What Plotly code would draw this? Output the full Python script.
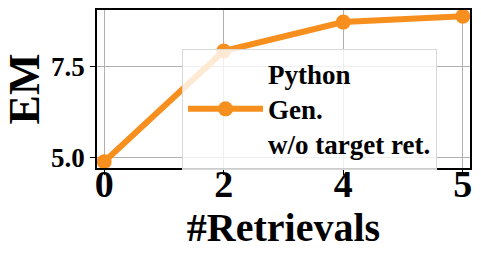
import plotly.graph_objects as go

x_labels = ["0", "2", "4", "5"]
em_values = [4.89, 7.91, 8.70, 8.86]
y_ticks = [5.0, 7.5]
series_lines = ["Python", "Gen.", "w/o target ret."]

font_family = "Liberation Serif"
orange = "#F78F1E"

fig = go.Figure()
fig.add_trace(go.Scatter(
    x=list(range(len(x_labels))), y=em_values, mode="lines+markers",
    name="<br>".join("<b>%s</b>" % s for s in series_lines),
    line=dict(color=orange, width=6),
    marker=dict(color=orange, size=15),
    cliponaxis=False,
))

fig.update_layout(
    width=481, height=260,
    margin=dict(l=97, r=11, t=10, b=92),
    plot_bgcolor="white", paper_bgcolor="white",
    font=dict(family=font_family, color="black", size=27),
    showlegend=True,
    legend=dict(
        x=0.228, y=0.755, xanchor="left", yanchor="top",
        bgcolor="rgba(255,255,255,0.8)", bordercolor="#d8d8d8", borderwidth=1,
        font=dict(family=font_family, size=27, color="black"),
        itemwidth=75, tracegroupgap=0,
    ),
    xaxis=dict(
        range=[-0.06, 3.06], automargin=False,
        tickmode="array", tickvals=list(range(len(x_labels))),
        ticktext=["<b>%s</b>" % t for t in x_labels],
        showgrid=True, gridcolor="#b0b0b0", gridwidth=1,
        showline=True, linecolor="black", linewidth=1.5, mirror=True,
        ticks="outside", ticklen=5, tickcolor="black",
        tickfont=dict(size=38, family=font_family),
        ticklabelstandoff=-23,
        title=dict(text="<b>#Retrievals</b>", font=dict(size=40, family=font_family), standoff=2),
        zeroline=False,
    ),
    yaxis=dict(
        range=[4.72, 9.03], automargin=False,
        tickmode="array", tickvals=y_ticks, ticktext=["<b>%.1f</b>" % v for v in y_ticks],
        showgrid=True, gridcolor="#b0b0b0", gridwidth=1,
        showline=True, linecolor="black", linewidth=1.5, mirror=True,
        ticks="outside", ticklen=5, tickcolor="black",
        tickfont=dict(size=27, family=font_family),
        title=dict(text="<b>EM</b>", font=dict(size=44, family=font_family), standoff=4),
        zeroline=False,
    ),
)

fig.write_html("out.html", config={"displayModeBar": False},
               post_script="document.body.style.margin='0';document.body.style.overflow='hidden';")
